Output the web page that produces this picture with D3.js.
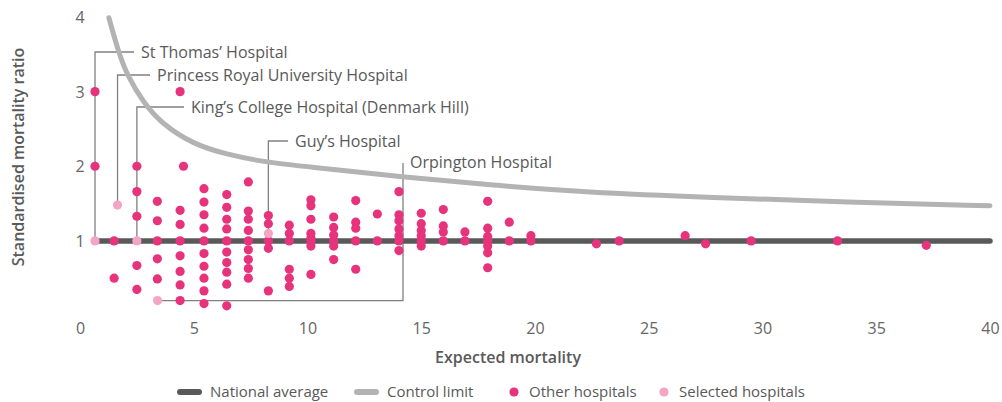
<!DOCTYPE html>
<head>
  <meta charset='utf-8'>
  <title>Standardised mortality ratio</title>
  <script src="https://cdnjs.cloudflare.com/ajax/libs/d3/7.8.5/d3.min.js"></script>
  <style>
    body { margin: 0; background: #fff; }
    svg text { font-family: "Open Sans", "Noto Sans", sans-serif; fill: #595959; }
    .tick text { font-size: 16px; fill: #666; }
    .label { font-size: 16px; }
    .legend text { font-size: 15px; }
    .title { font-size: 16px; font-weight: 600; }
  </style>
</head>

<body>
  <div id="chart"></div>
  <script>
    // expected mortality, standardised mortality ratio
    var otherHospitals = [
      [0.66, 3.0], [0.66, 2.0],
      [1.5, 1.0], [1.5, 0.5],
      [2.5, 2.0], [2.5, 1.66], [2.5, 1.33], [2.5, 0.67], [2.5, 0.35],
      [3.4, 1.53], [3.4, 1.27], [3.4, 1.0], [3.4, 0.76], [3.4, 0.49],
      [4.4, 3.0], [4.55, 2.0], [4.4, 1.41], [4.4, 1.22], [4.4, 1.0], [4.4, 0.8], [4.4, 0.59], [4.4, 0.41], [4.4, 0.2],
      [5.45, 1.7], [5.45, 1.52], [5.45, 1.35], [5.45, 1.17], [5.45, 1.0], [5.45, 0.83], [5.45, 0.66], [5.45, 0.5], [5.45, 0.33], [5.45, 0.16],
      [6.45, 1.62], [6.45, 1.45], [6.45, 1.29], [6.45, 1.16], [6.45, 1.0], [6.45, 0.85], [6.45, 0.71], [6.45, 0.58], [6.45, 0.42], [6.45, 0.13],
      [7.4, 1.79], [7.4, 1.4], [7.4, 1.29], [7.4, 1.14], [7.4, 1.0], [7.4, 0.88], [7.4, 0.75], [7.4, 0.63], [7.4, 0.5],
      [8.28, 1.34], [8.28, 1.23], [8.28, 1.0], [8.28, 0.9], [8.28, 0.33],
      [9.2, 1.21], [9.2, 1.1], [9.2, 1.0], [9.2, 0.62], [9.2, 0.5], [9.2, 0.39],
      [10.15, 1.55], [10.15, 1.47], [10.15, 1.29], [10.15, 1.1], [10.15, 1.04], [10.15, 1.0], [10.15, 0.93], [10.15, 0.55],
      [11.15, 1.32], [11.15, 1.18], [11.15, 1.08], [11.15, 1.0], [11.15, 0.93], [11.15, 0.75],
      [12.12, 1.54], [12.12, 1.25], [12.12, 1.17], [12.12, 1.0], [12.12, 0.62],
      [13.07, 1.36], [13.07, 1.0],
      [14.02, 1.66], [14.02, 1.35], [14.02, 1.27], [14.02, 1.16], [14.02, 1.07], [14.02, 1.0], [14.02, 0.87],
      [15.0, 1.37], [15.0, 1.23], [15.0, 1.14], [15.0, 1.07], [15.0, 1.0], [15.0, 0.93],
      [15.97, 1.42], [15.97, 1.2], [15.97, 1.12], [15.97, 1.0],
      [16.92, 1.12], [16.92, 1.0],
      [17.92, 1.53], [17.92, 1.17], [17.92, 1.06], [17.92, 1.0], [17.92, 0.93], [17.92, 0.84], [17.92, 0.64],
      [18.87, 1.25], [18.87, 1.0],
      [19.82, 1.07], [19.82, 1.0],
      [22.7, 0.96], [23.7, 1.0], [26.6, 1.07], [27.5, 0.96], [29.5, 1.0], [33.3, 1.0], [37.2, 0.94]
    ];

    var selectedNames = ["St Thomas\u2019 Hospital", "Princess Royal University Hospital",
      "King\u2019s College Hospital (Denmark Hill)", "Guy\u2019s Hospital", "Orpington Hospital"];
    var selectedExpected = [0.66, 1.65, 2.5, 8.28, 3.41];
    var selectedSMR = [1.0, 1.48, 1.0, 1.1, 0.2];

    var nationalAverage = 1;

    var controlExpected = [1.27, 1.69, 2.1, 2.8, 3.55, 5.0, 6.45, 8.0, 10.1, 14.07, 18.0, 22.2, 27.8, 33.7, 40];
    var controlLimit = [3.99, 3.53, 3.2, 2.85, 2.58, 2.29, 2.16, 2.06, 1.99, 1.86, 1.75, 1.65, 1.58, 1.52, 1.47];

    var xTicks = [0, 5, 10, 15, 20, 25, 30, 35, 40];
    var yTicks = [1, 2, 3, 4];

    var legendItems = ["National average", "Control limit", "Other hospitals", "Selected hospitals"];

    var width = 1002,
        height = 402;

    var colors = {
      national: "#595959",
      control: "#b3b3b3",
      other: "#e6337c",
      selected: "#f3a6c4",
      leader: "#808080"
    };

    var svg = d3.select("#chart").append("svg")
        .attr("width", width)
        .attr("height", height);

    var x = d3.scaleLinear().domain([0, 40]).range([80, 990]);
    var y = d3.scaleLinear().domain([0, 4]).range([315.5, 17]);

    // axes, labels only
    var xAxis = svg.append("g")
        .attr("transform", "translate(0,316)")
        .call(d3.axisBottom(x).tickValues(xTicks).tickSize(0).tickFormat(d3.format("d")));
    xAxis.select(".domain").remove();
    xAxis.selectAll("text").attr("y", 12).attr("dy", "0.35em");

    var yAxis = svg.append("g")
        .attr("transform", "translate(80,0)")
        .call(d3.axisLeft(y).tickValues(yTicks).tickSize(0).tickFormat(d3.format("d")));
    yAxis.select(".domain").remove();
    yAxis.selectAll("text").attr("x", 0).attr("dy", "0.35em").style("text-anchor", "middle");

    svg.append("text")
        .attr("class", "title")
        .attr("transform", "translate(18,157) rotate(-90)")
        .attr("text-anchor", "middle")
        .attr("dy", "0.35em")
        .text("Standardised mortality ratio");

    svg.append("text")
        .attr("class", "title")
        .attr("x", 508)
        .attr("y", 357)
        .attr("text-anchor", "middle")
        .attr("dy", "0.35em")
        .text("Expected mortality");

    var selected = selectedNames.map(function(n, i) {
      return { name: n, e: selectedExpected[i], smr: selectedSMR[i] };
    });

    // leader lines: up to a label row then right, Orpington goes right then up
    var labelRows = [52, 75, 107, 141];
    var labelX = [141, 157, 191, 295];
    var leaders = svg.append("g")
        .attr("fill", "none")
        .attr("stroke", colors.leader)
        .attr("stroke-width", 1.3);

    selected.forEach(function(d, i) {
      var px = x(d.e), py = y(d.smr);
      if (i < 4) {
        leaders.append("path")
            .attr("d", "M" + px + "," + py + "V" + labelRows[i] + "H" + (labelX[i] - 7));
        svg.append("text")
            .attr("class", "label")
            .attr("x", labelX[i])
            .attr("y", labelRows[i])
            .attr("dy", "0.35em")
            .text(d.name);
      } else {
        leaders.append("path")
            .attr("d", "M" + px + "," + py + "H403V163");
        svg.append("text")
            .attr("class", "label")
            .attr("x", 410)
            .attr("y", 162)
            .attr("dy", "0.35em")
            .text(d.name);
      }
    });

    var line = d3.line()
        .x(function(d) { return x(d[0]); })
        .y(function(d) { return y(d[1]); });

    svg.append("path")
        .datum(controlExpected.map(function(e, i) { return [e, controlLimit[i]]; }))
        .attr("fill", "none")
        .attr("stroke", colors.control)
        .attr("stroke-width", 5)
        .attr("stroke-linecap", "round")
        .attr("d", line.curve(d3.curveBasis));

    svg.append("path")
        .datum([[d3.min(selectedExpected), nationalAverage], [40, nationalAverage]])
        .attr("fill", "none")
        .attr("stroke", colors.national)
        .attr("stroke-width", 5.5)
        .attr("stroke-linecap", "round")
        .attr("d", d3.line().x(function(d) { return x(d[0]); }).y(function(d) { return y(d[1]); }));

    svg.append("g").selectAll("circle")
        .data(otherHospitals)
      .enter().append("circle")
        .attr("cx", function(d) { return x(d[0]); })
        .attr("cy", function(d) { return y(d[1]); })
        .attr("r", 4.6)
        .style("fill", colors.other);

    svg.append("g").selectAll("circle")
        .data(selected)
      .enter().append("circle")
        .attr("cx", function(d) { return x(d.e); })
        .attr("cy", function(d) { return y(d.smr); })
        .attr("r", 4.6)
        .style("fill", colors.selected);

    // legend
    var legend = svg.append("g").attr("class", "legend");
    var legendX = [178, 355, 514, 664];
    var legendColors = [colors.national, colors.control, colors.other, colors.selected];
    legendItems.forEach(function(name, i) {
      var g = legend.append("g").attr("transform", "translate(" + legendX[i] + ",392)");
      if (i < 2) {
        g.append("line")
            .attr("x1", 2).attr("x2", 21)
            .attr("stroke", legendColors[i])
            .attr("stroke-width", 6)
            .attr("stroke-linecap", "round");
        g.append("text").attr("x", 32).attr("dy", "0.35em").text(name);
      } else {
        g.append("circle").attr("r", 4.6).style("fill", legendColors[i]);
        g.append("text").attr("x", 15).attr("dy", "0.35em").text(name);
      }
    });
  </script>
</body>
